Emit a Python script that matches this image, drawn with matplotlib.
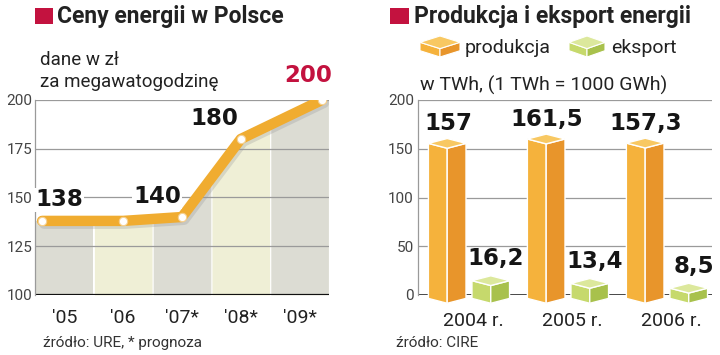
import numpy as np
import matplotlib
matplotlib.use("Agg")
import matplotlib.pyplot as plt
import matplotlib.patheffects as pe
from matplotlib.patches import Polygon, Rectangle

# ceny energii (zł/MWh)
years = ["'05", "'06", "'07*", "'08*", "'09*"]
prices = [138, 138, 140, 180, 200]
price_labels = ["138", "", "140", "180", "200"]

# produkcja i eksport (TWh)
periods = ["2004 r.", "2005 r.", "2006 r."]
production = [157, 161.5, 157.3]
export = [16.2, 13.4, 8.5]
prod_labels = ["157", "161,5", "157,3"]
exp_labels = ["16,2", "13,4", "8,5"]

W, H = 720, 355
RED = "#c3123f"
ORANGE = ("#f5b23c", "#e8952b", "#f8c862")
GREEN = ("#c6d96c", "#a8c14c", "#dce89c")
TXT = "#222222"
LIGHT = ["Roboto", "DejaVu Sans"]
BOLD = ["DejaVu Sans"]
TITLE = ["Roboto", "DejaVu Sans"]


def fx(x):
    return x / W


def fy(y):
    return 1 - y / H


def box3d(ax, x, top, bottom, w, d, colors, lw=1.0):
    # lewa i prawa sciana + gorna klapka
    left = [(x - w, bottom), (x - w, top), (x, top - d), (x, bottom - d)]
    right = [(x, bottom - d), (x, top - d), (x + w, top), (x + w, bottom)]
    lid = [(x - w, top), (x, top - d), (x + w, top), (x, top + d)]
    for pts, c in zip([left, right, lid], colors):
        ax.add_patch(Polygon(pts, closed=True, facecolor=c, edgecolor="white",
                             linewidth=lw, clip_on=False, zorder=3))


fig = plt.figure(figsize=(7.2, 3.55), dpi=100)

# ---------------- lewy wykres ----------------
ax1 = fig.add_axes([fx(35), fy(295), fx(294), 195 / H])
n = len(years)
xc = np.arange(n, dtype=float)
line_x = xc.copy()
line_x[0] -= 0.38
line_x[-1] += 0.38
col_colors = ["#dcdcd3", "#efefd6"]
for i in range(n):
    xs = np.linspace(i - 0.49, i + 0.49, 50)
    ys = np.interp(xs, line_x, prices)
    ax1.fill_between(xs, 100, ys, color=col_colors[i % 2], linewidth=0, zorder=1)
for v in [125, 150, 175, 200]:
    ax1.axhline(v, color="#9a9a9a", linewidth=0.9, zorder=2)
ax1.axhline(100, color="#111111", linewidth=1.6, zorder=2)
ax1.plot(line_x, prices, color="#f0ac30", linewidth=7.5, solid_capstyle="round",
         solid_joinstyle="round", zorder=4,
         path_effects=[pe.SimpleLineShadow(offset=(1.5, -2), shadow_color="#999999", alpha=0.3),
                       pe.Normal()])
ax1.plot(line_x, prices, "o", markersize=6, markerfacecolor="white",
         markeredgecolor="#f5d090", markeredgewidth=0.8, zorder=5)
offsets = [(17, 21), (0, 0), (-25, 20), (-26, 20), (-14, 24)]
for i, lab in enumerate(price_labels):
    if not lab:
        continue
    col = RED if i == n - 1 else "#151515"
    t = ax1.annotate(lab, (line_x[i], prices[i]), xytext=offsets[i],
                     textcoords="offset pixels", ha="center", va="center",
                     fontsize=16.5, fontweight="bold", family=BOLD, color=col, zorder=6,
                     annotation_clip=False)
    if i < n - 1:
        t.set_bbox(dict(facecolor="white", edgecolor="none", pad=0.5))
ax1.set_xlim(-0.5, n - 0.5)
ax1.set_ylim(100, 200)
ax1.set_xticks(xc)
ax1.set_xticklabels(years, fontsize=14, family=LIGHT, color=TXT)
ax1.set_yticks([100, 125, 150, 175, 200])
ax1.set_yticklabels(["100", "125", "150", "175", "200"], fontsize=11, family=LIGHT,
                    color="#444444")
ax1.tick_params(length=0, pad=2)
ax1.tick_params(axis="x", pad=10)
for s in ["top", "right", "bottom"]:
    ax1.spines[s].set_visible(False)
ax1.spines["left"].set_color("#9a9a9a")
ax1.spines["left"].set_linewidth(0.9)
ax1.set_facecolor("white")

fig.patches.append(Rectangle((fx(35), fy(24)), fx(18), 16 / H, transform=fig.transFigure,
                             facecolor=RED, edgecolor="none"))
fig.text(fx(57), fy(16), "Ceny energii w Polsce", fontsize=16.5, fontweight="bold",
         family=TITLE, color=TXT, va="center")
fig.text(fx(40), fy(71), "dane w zł\nza megawatogodzinę", fontsize=13.5, family=LIGHT,
         color=TXT, va="center", linespacing=1.25)
fig.text(fx(43), fy(343), "źródło: URE, * prognoza", fontsize=11, family=LIGHT,
         color="#333333", va="center")

# ---------------- prawy wykres ----------------
ax2 = fig.add_axes([fx(418), fy(295), fx(294), 195 / H])
g = np.arange(len(periods), dtype=float)
for v in [50, 100, 150, 200]:
    ax2.axhline(v, color="#9a9a9a", linewidth=0.9, zorder=1)
ax2.axhline(0, color="#111111", linewidth=1.8, zorder=1)
bw = 0.19
for i in range(len(periods)):
    box3d(ax2, g[i] - 0.23, production[i] - 1.5, -3.5, bw, 5, ORANGE)
    box3d(ax2, g[i] + 0.21, export[i] - 1.5, -3.5, bw, 5, GREEN)
    ax2.text(g[i] - 0.22, production[i] + 19, prod_labels[i], ha="center", va="center",
             fontsize=16.5, fontweight="bold", family=BOLD, color="#151515", zorder=6)
    ax2.text(g[i] + 0.26, export[i] + 21, exp_labels[i], ha="center", va="center",
             fontsize=16.5, fontweight="bold", family=BOLD, color="#151515", zorder=6)
ax2.set_xlim(-0.525, 2.445)
ax2.set_ylim(0, 200)
ax2.set_xticks(g + 0.03)
ax2.set_xticklabels(periods, fontsize=14, family=LIGHT, color=TXT)
ax2.set_yticks([0, 50, 100, 150, 200])
ax2.set_yticklabels(["0", "50", "100", "150", "200"], fontsize=11, family=LIGHT,
                    color="#444444")
ax2.tick_params(length=0, pad=3)
ax2.tick_params(axis="x", pad=12)
for s in ["top", "right", "bottom"]:
    ax2.spines[s].set_visible(False)
ax2.spines["left"].set_color("#9a9a9a")
ax2.spines["left"].set_linewidth(0.9)

fig.patches.append(Rectangle((fx(390), fy(24)), fx(19), 16 / H, transform=fig.transFigure,
                             facecolor=RED, edgecolor="none"))
fig.text(fx(414), fy(16), "Produkcja i eksport energii", fontsize=16.5, fontweight="bold",
         family=TITLE, color=TXT, va="center")

# legenda z pudelkami
for x0, wpx, cols in [(420, 40, ORANGE), (569, 36, GREEN)]:
    lax = fig.add_axes([fx(x0), fy(57), fx(wpx), 21 / H])
    lax.set_xlim(0, 1)
    lax.set_ylim(0, 1)
    lax.axis("off")
    box3d(lax, 0.5, 0.7, 0.3, 0.5, 0.3, cols, lw=0.8)
fig.text(fx(465), fy(48), "produkcja", fontsize=14, family=LIGHT, color=TXT, va="center")
fig.text(fx(611), fy(48), "eksport", fontsize=14, family=LIGHT, color=TXT, va="center")
fig.text(fx(420), fy(85), "w TWh, (1 TWh = 1000 GWh)", fontsize=14, family=LIGHT,
         color=TXT, va="center")
fig.text(fx(396), fy(343), "źródło: CIRE", fontsize=11, family=LIGHT, color="#333333",
         va="center")

fig.savefig("out.png", dpi=100)
